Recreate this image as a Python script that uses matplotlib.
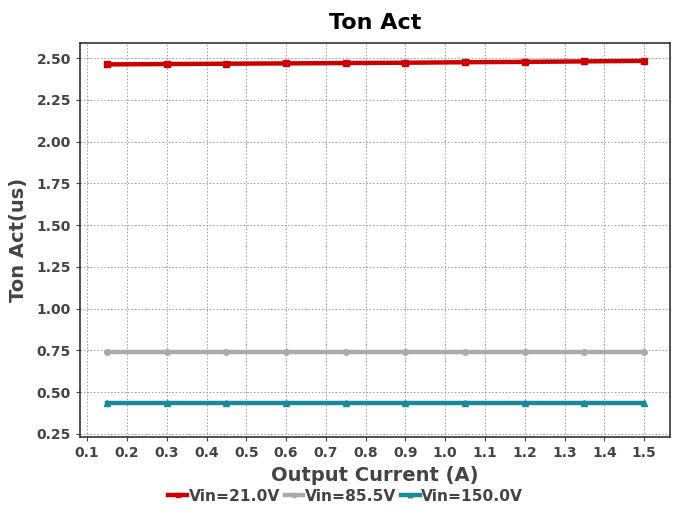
import numpy as np
import matplotlib.pyplot as plt

# output current sweep (A)
current = [0.15, 0.30, 0.45, 0.60, 0.75, 0.90, 1.05, 1.20, 1.35, 1.50]

# measured on-time (us) for each input voltage
ton_21v = [2.462, 2.464, 2.466, 2.468, 2.470, 2.472, 2.475, 2.477, 2.480, 2.483]
ton_85v = [0.740, 0.740, 0.740, 0.740, 0.740, 0.740, 0.740, 0.740, 0.740, 0.740]
ton_150v = [0.435, 0.435, 0.435, 0.435, 0.435, 0.435, 0.435, 0.435, 0.435, 0.435]

labels = ["Vin=21.0V", "Vin=85.5V", "Vin=150.0V"]
colors = ["#cc0000", "#aaaaaa", "#168a99"]
markers = ["s", "o", "^"]

x_ticks = np.arange(0.1, 1.51, 0.1)
y_ticks = np.arange(0.25, 2.51, 0.25)

plt.rcParams['font.family'] = ['DejaVu Sans']
plt.rcParams['font.weight'] = 'bold'

fig = plt.figure(figsize=(6.78, 5.15), dpi=100)
ax = fig.add_axes([80 / 678, 78 / 515, 590 / 678, 394 / 515])

for y, lab, c, m in zip([ton_21v, ton_85v, ton_150v], labels, colors, markers):
    ax.plot(current, y, color=c, marker=m, markersize=4, linewidth=3.2, label=lab)

ax.set_xlim(0.082, 1.565)
ax.set_ylim(0.232, 2.59)
ax.set_xticks(x_ticks)
ax.set_xticklabels([f"{v:.1f}" for v in x_ticks])
ax.set_yticks(y_ticks)
ax.set_yticklabels([f"{v:.2f}" for v in y_ticks])
ax.tick_params(colors="#444444", labelsize=10, length=3)
for lbl in ax.get_xticklabels() + ax.get_yticklabels():
    lbl.set_fontweight('bold')

ax.grid(True, linestyle=(0, (1.5, 2)), color="#999999", linewidth=0.7)
for s in ax.spines.values():
    s.set_color("#333333")
    s.set_linewidth(1.2)

ax.set_title("Ton Act", fontsize=16, fontweight='bold', color="black", pad=10)
ax.set_xlabel("Output Current (A)", fontsize=14, fontweight='bold', color="#444444", labelpad=4)
ax.set_ylabel("Ton Act(us)", fontsize=14, fontweight='bold', color="#444444", labelpad=6)

leg = fig.legend(loc="lower center", bbox_to_anchor=(0.51, -0.005), ncol=3, frameon=False,
                 fontsize=11.2, handlelength=1.2, handletextpad=0.1, columnspacing=0.3,
                 markerscale=0.8)
for t in leg.get_texts():
    t.set_color("#444444")
    t.set_fontweight('bold')

fig.savefig("out.png", dpi=100)
